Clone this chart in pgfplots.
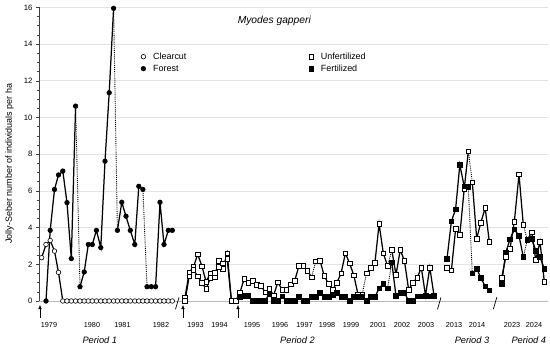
\documentclass[border=0pt]{standalone}
\usepackage{fontspec}
\setmainfont{Liberation Sans}
\usepackage{pgfplots}
\pgfplotsset{compat=1.18}
\usetikzlibrary{arrows.meta}
\pgfplotsset{
  ser/.style={black, line width=1.25bp, forget plot},
  mopen/.style={mark=*, mark size=2.3bp, mark options={fill=white, draw=black, line width=0.6bp, solid}},
  mfill/.style={mark=*, mark size=2.3bp, mark options={fill=black, draw=black, line width=0.6bp, solid}},
  sopen/.style={mark=square*, mark size=2.3bp, mark options={fill=white, draw=black, line width=0.6bp, solid}},
  sfill/.style={mark=square*, mark size=2.3bp, mark options={fill=black, draw=black, line width=0.6bp, solid}},
  dotc/.style={black, line width=0.9bp, densely dotted, forget plot, no marks},
}
\begin{document}
\begin{tikzpicture}
\begin{axis}[
  name=ax,
  scale only axis, width=509bp, height=293.6bp,
  xmin=39, xmax=548, ymin=0, ymax=16,
  clip=false,
  axis lines=left, axis line style={-},
  x axis line style={draw=none},
  y axis line style={black!75, line width=0.6bp},
  xtick={49,92,122.5,161,195.5,219.5,252,280,304.5,327,351,378,402,426,454,477,512,534},
  xticklabels={1979,1980,1981,1982,1993,1994,1995,1996,1997,1998,1999,2001,2002,2003,2013,2014,2023,2024},
  xtick style={draw=none},
  xticklabel style={font=\fontsize{7.3}{8}\selectfont, anchor=base, yshift=-23bp},
  ytick={0,2,...,16},
  yticklabel style={font=\fontsize{7.8}{9}\selectfont},
  minor y tick num=3,
  ytick style={black!75, line width=0.5bp},
  tick align=outside,
  major tick length=3bp, minor tick length=1.8bp,
  ymajorgrids, grid style={gray!22, line width=0.7bp},
  /pgf/number format/assume math mode=true,
  legend columns=2, transpose legend,
  legend cell align=left,
  legend style={at={(axis cs:139.5,13.65)}, anchor=north west, draw=none, fill=none,
    inner sep=0bp, font=\fontsize{9}{10.5}\selectfont, row sep=0bp,
    /tikz/every odd column/.append style={column sep=4bp},
    /tikz/every even column/.append style={column sep=119bp}},
  legend image code/.code={\path (0bp,0bp) (7bp,0bp); \draw[#1] plot coordinates {(3.5bp,0bp)};},
]
\addlegendimage{black, mopen}\addlegendentry{Clearcut}
\addlegendimage{black, mfill}\addlegendentry{Forest}
\addlegendimage{black, sopen}\addlegendentry{Unfertilized}
\addlegendimage{black, sfill}\addlegendentry{Fertilized}

% zero line
\draw[gray!55, line width=0.8bp] (axis cs:39,0) -- (axis cs:548,0);

% ---------- Period 1 ----------
\addplot[ser, mopen] coordinates {(41.7,2.36) (46,3.08) (50.2,3.3) (54.5,2.72) (58.5,1.56) (62.8,0) (67,0) (71.3,0) (75.6,0) (80,0) (84.2,0) (88.3,0) (92.3,0) (96.4,0) (100.8,0) (105,0) (109.2,0) (113.6,0) (117.4,0) (121.8,0) (126,0) (130.3,0) (134.8,0) (138.8,0) (142.9,0) (147,0) (151.3,0) (155.6,0) (160,0) (164,0) (168.3,0) (172.3,0)};
\addplot[dotc] coordinates {(75.6,10.62) (80,0.78)};
\addplot[dotc] coordinates {(113.6,15.95) (117.4,3.85)};
\addplot[dotc] coordinates {(142.9,6.08) (147,0.78)};
\addplot[ser, mfill] coordinates {(46,0) (50.2,3.85) (54.5,6.08) (58.5,6.87) (62.8,7.08) (67,5.36) (71.3,2.31) (75.6,10.62)};
\addplot[ser, mfill] coordinates {(80,0.78) (84.2,1.58) (88.3,3.08) (92.3,3.08) (96.4,3.85) (100.8,2.91) (105,7.62) (109.2,11.35) (113.6,15.95)};
\addplot[ser, mfill] coordinates {(117.4,3.85) (121.8,5.38) (126,4.62) (130.3,3.85) (134.8,3.08) (138.8,6.25) (142.9,6.08)};
\addplot[ser, mfill] coordinates {(147,0.78) (151.3,0.78) (155.6,0.78) (160,5.38) (164,3.08) (168.3,3.85) (172.3,3.85)};

% ---------- Period 2 ----------
\addplot[dotc] coordinates {(311.6,1.3) (315.8,2.17)};
\addplot[dotc] coordinates {(362.2,0.36) (366.5,1.51)};
\addplot[dotc] coordinates {(387.6,1.91) (391.8,2.78)};
\addplot[dotc] coordinates {(387.6,0.69) (391.8,2.1)};
\addplot[ser, sopen] coordinates {(185.0,0.2) (189.2,1.55) (193.4,1.85) (197.7,2.55) (201.9,1.9) (206.1,1.05) (210.3,1.5) (214.5,1.3) (218.8,2.2) (223.0,1.75) (227.2,2.6) (231.4,0) (235.6,0) (239.9,0.45) (244.1,1.2) (248.3,0.98) (252.5,1.1) (256.7,0.88) (261.0,0.83) (265.2,0.47) (269.4,0.66) (273.6,0.3) (277.8,1.02) (282.1,0.62) (286.3,0.6) (290.5,0.92) (294.7,1.1) (298.9,1.91) (303.2,1.91) (307.4,1.65) (311.6,1.3)};
\addplot[ser, sopen] coordinates {(315.8,2.17) (320.0,2.2) (324.3,1.36) (328.5,0.94) (332.7,0.62) (336.9,1.0) (341.1,1.52) (345.4,2.6) (349.6,2.05) (353.8,1.4) (358.0,0.36) (362.2,0.36)};
\addplot[ser, sopen] coordinates {(366.5,1.51) (370.7,1.8) (374.9,2.07) (379.1,4.2) (383.3,2.6) (387.6,1.91)};
\addplot[ser, sopen] coordinates {(391.8,2.78) (396.0,1.42) (400.2,2.78) (404.4,2.2) (408.7,0.6) (412.9,1.0) (417.1,1.25) (421.3,1.82) (425.5,0.3) (429.8,1.82) (434.0,0.3)};
\addplot[ser, sopen] coordinates {(185.0,0) (189.2,1.35) (193.4,1.7) (197.7,1.35) (201.9,1.0) (206.1,0.65) (210.3,1.25) (214.5,1.55) (218.8,1.85) (223.0,2.05) (227.2,2.3) (231.4,0) (235.6,0)};
\addplot[ser, no marks] coordinates {(235.6,0) (239.9,0.24)};
\addplot[ser, sfill] coordinates {(239.9,0.24) (244.1,0.27) (248.3,0.27) (252.5,0) (256.7,0) (261.0,0) (265.2,0) (269.4,0.4) (273.6,0) (277.8,0) (282.1,0.25) (286.3,0) (290.5,0) (294.7,0) (298.9,0.22) (303.2,0) (307.4,0) (311.6,0.22) (315.8,0.22) (320.0,0.45) (324.3,0.22) (328.5,0.22) (332.7,0.35) (336.9,0.45) (341.1,0.22) (345.4,0.22) (349.6,0) (353.8,0.22) (358.0,0.22) (362.2,0.22) (366.5,0) (370.7,0.22) (374.9,0.22) (379.1,0.69) (383.3,0.93) (387.6,0.69)};
\addplot[ser, sfill] coordinates {(391.8,2.1) (396.0,0.27) (400.2,0.45) (404.4,0.45) (408.7,0) (412.9,0) (417.1,0.25) (421.3,0.25) (425.5,0.25) (429.8,0.25) (434.0,0.25)};

% ---------- Period 3 ----------
\addplot[dotc] coordinates {(468.3,8.15) (472.3,6.47)};
\addplot[dotc] coordinates {(468.3,6.22) (472.3,1.5)};
\addplot[ser, sopen] coordinates {(447,1.82) (451.4,1.68) (455.6,3.93) (459.8,3.6) (464.2,6.1) (468.3,8.15)};
\addplot[ser, sopen] coordinates {(472.3,6.47) (476.7,3.4) (480.8,4.27) (485.2,5.07) (489.3,3.22)};
\addplot[ser, sfill] coordinates {(447,2.3) (451.4,4.35) (455.6,5.0) (459.8,7.42) (464.2,6.25) (468.3,6.22)};
\addplot[ser, sfill] coordinates {(472.3,1.5) (476.7,1.77) (480.8,1.26) (485.2,0.8) (489.3,0.58)};

% ---------- Period 4 ----------
\addplot[dotc] coordinates {(523.3,4.15) (527.3,3.33)};
\addplot[dotc] coordinates {(523.3,2.4) (527.3,3.33)};
\addplot[ser, sopen] coordinates {(501.6,1.25) (505.8,2.4) (510,2.85) (514.3,4.3) (519,6.9) (523.3,4.15)};
\addplot[ser, sopen] coordinates {(527.3,3.33) (531.7,3.75) (535.7,2.25) (540,3.23) (544.3,1.06)};
\addplot[ser, sfill] coordinates {(501.6,0.95) (505.8,2.65) (510,3.37) (514.3,3.9) (519,3.56) (523.3,2.4)};
\addplot[ser, sfill] coordinates {(527.3,3.33) (531.7,3.4) (535.7,2.75) (540,2.4) (544.3,1.75)};

% axis breaks
\draw[black, line width=0.7bp] (axis cs:175.5,-0.45) -- (axis cs:179,0.2);
\draw[black, line width=0.7bp] (axis cs:437.5,-0.45) -- (axis cs:441,0.2);
\draw[black, line width=0.7bp] (axis cs:493.3,-0.45) -- (axis cs:496.8,0.2);
% arrows (start of treatments)
\draw[-{Latex[length=4.5bp,width=3.6bp]}, line width=0.7bp] (axis cs:40,-0.93) -- (axis cs:40,-0.2);
\draw[-{Latex[length=4.5bp,width=3.6bp]}, line width=0.7bp] (axis cs:183,-0.93) -- (axis cs:183,-0.2);
\draw[-{Latex[length=4.5bp,width=3.6bp]}, line width=0.7bp] (axis cs:238,-0.93) -- (axis cs:238,-0.2);

% texts
\node[font=\fontsize{10.3}{12}\selectfont\itshape] at (axis cs:274.3,15.27) {Myodes gapperi};
\node[rotate=90, font=\fontsize{9}{10}\selectfont] at (axis cs:9.5,7.48) {Jolly-Seber number of individuals per ha};
\node[font=\fontsize{9.3}{11}\selectfont\itshape] at (axis cs:99.8,-2.13) {Period 1};
\node[font=\fontsize{9.3}{11}\selectfont\itshape] at (axis cs:297.5,-2.13) {Period 2};
\node[font=\fontsize{9.3}{11}\selectfont\itshape] at (axis cs:472,-2.13) {Period 3};
\node[font=\fontsize{9.3}{11}\selectfont\itshape] at (axis cs:528.8,-2.13) {Period 4};
\end{axis}
\pgfresetboundingbox
\path[use as bounding box] ([xshift=-39bp,yshift=-45bp]ax.south west) rectangle ([xshift=2bp,yshift=7.4bp]ax.north east);
\end{tikzpicture}
\end{document}
